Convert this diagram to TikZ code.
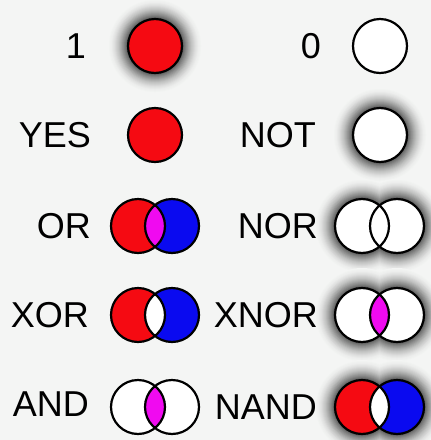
\documentclass[tikz,border=0pt]{standalone}
\usepackage{fontspec}
\setmainfont{Liberation Sans}
\definecolor{bgc}{HTML}{F4F5F4}
\definecolor{cred}{HTML}{F50A12}
\definecolor{cblue}{HTML}{0A0AF0}
\definecolor{cmag}{HTML}{F00AF0}
\newcommand\glowat[3]{%
  \foreach \k in {1,...,20}{%
    \pgfmathtruncatemacro\dd{64*(\k/20)^1.8}%
    \fill[black!\dd!bgc] (#1,#3) circle ({48-\k}) (#2,#3) circle ({48-\k});}}
\newcommand\lensfill[4]{%
  \begin{scope}\clip (#1,#3) circle (27);\fill[#4] (#2,#3) circle (27);\end{scope}}
\begin{document}
\begin{tikzpicture}[x=1pt,y=-1pt,
  lbl/.style={font=\fontsize{36}{42}\selectfont, inner sep=0pt, anchor=east},
  rim/.style={draw=black, line width=2.2pt}]
\useasboundingbox (0,0) rectangle (431,440);
\fill[bgc] (0,0) rectangle (431,440);

% ---- labels
\node[lbl] (one)  at (86,46)  {1};
\node[lbl] (yes)  at (91,135) {YES};
\node[lbl] (or)   at (91,226) {OR};
\node[lbl] (xor)  at (89,315) {XOR};
\node[lbl] (and)  at (89,404) {AND};
\node[lbl] (zero) at (321,46) {0};
\node[lbl] (not)  at (316,135) {NOT};
\node[lbl] (nor)  at (318,226) {NOR};
\node[lbl] (xnor) at (318,315) {XNOR};
\node[lbl] (nand) at (317,407) {NAND};

% ---- 1
\glowat{155}{155}{46}
\fill[cred] (155,46) circle (27);
\draw[rim] (155,46) circle (27);
% ---- YES
\fill[cred] (155,135) circle (27);
\draw[rim] (155,135) circle (27);
% ---- 0
\fill[white] (380,46) circle (27);
\draw[rim] (380,46) circle (27);
% ---- NOT
\glowat{380}{380}{135}
\fill[white] (380,135) circle (27);
\draw[rim] (380,135) circle (27);

% ---- OR
\fill[cred] (138,226) circle (27);
\fill[cblue] (172,226) circle (27);
\lensfill{138}{172}{226}{cmag}
\draw[rim] (138,226) circle (27) (172,226) circle (27);
% ---- NOR
\glowat{362}{397}{226}
\fill[white] (362,226) circle (27) (397,226) circle (27);
\draw[rim] (362,226) circle (27) (397,226) circle (27);

% ---- XOR
\fill[cred] (138,315) circle (27);
\fill[cblue] (172,315) circle (27);
\lensfill{138}{172}{315}{white}
\draw[rim] (138,315) circle (27) (172,315) circle (27);
% ---- XNOR
\glowat{362}{397}{315}
\fill[white] (362,315) circle (27) (397,315) circle (27);
\lensfill{362}{397}{315}{cmag}
\draw[rim] (362,315) circle (27) (397,315) circle (27);

% ---- AND
\fill[white] (138,407) circle (27) (172,407) circle (27);
\lensfill{138}{172}{407}{cmag}
\draw[rim] (138,407) circle (27) (172,407) circle (27);
% ---- NAND
\glowat{362}{397}{407}
\fill[cred] (362,407) circle (27);
\fill[cblue] (397,407) circle (27);
\lensfill{362}{397}{407}{white}
\draw[rim] (362,407) circle (27) (397,407) circle (27);
\end{tikzpicture}
\end{document}
